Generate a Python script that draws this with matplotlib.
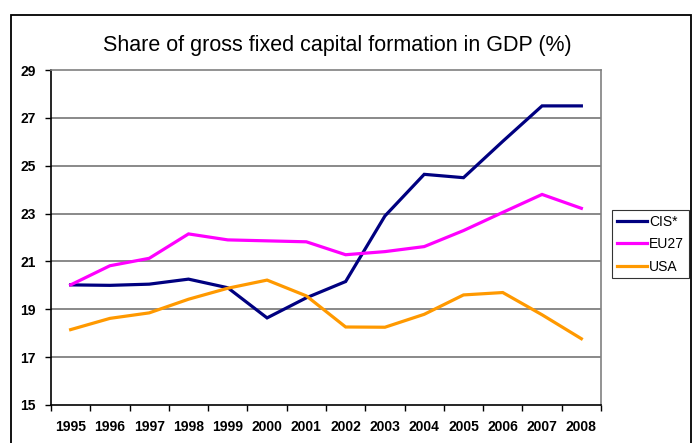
import matplotlib
matplotlib.use("Agg")
import matplotlib.pyplot as plt
import matplotlib.patches as patches
import numpy as np

years = ["1995", "1996", "1997", "1998", "1999", "2000", "2001",
         "2002", "2003", "2004", "2005", "2006", "2007", "2008"]
cis = [20.02, 20.0, 20.05, 20.26, 19.9, 18.64, 19.48, 20.16, 22.9, 24.64, 24.5, 26.02, 27.5, 27.5]
eu27 = [20.02, 20.82, 21.13, 22.15, 21.9, 21.86, 21.82, 21.28, 21.41, 21.62, 22.29, 23.05, 23.8, 23.22]
usa = [18.15, 18.62, 18.85, 19.42, 19.88, 20.22, 19.56, 18.26, 18.25, 18.79, 19.6, 19.7, 18.77, 17.77]
series_names = ["CIS*", "EU27", "USA"]
yticks = [15, 17, 19, 21, 23, 25, 27, 29]

plt.rcParams['font.family'] = ['Liberation Sans', 'DejaVu Sans']

fig = plt.figure(figsize=(6.97, 4.43), dpi=100)
ax = fig.add_axes([51/697, 1-405/443, (601-51)/697, (405-70)/443])

x = np.arange(len(years))
colors = ["#000080", "#FF00FF", "#FF9900"]
for vals, name, c in zip([cis, eu27, usa], series_names, colors):
    ax.plot(x, vals, color=c, lw=2.3, label=name, solid_joinstyle='miter')

ax.set_xlim(-0.5, len(years) - 0.5)
ax.set_ylim(15, 29)
ax.set_yticks(yticks)
ax.set_yticklabels([str(v) for v in yticks], fontsize=10, fontweight='bold')
ax.set_xticks(np.arange(-0.5, len(years), 1.0))
ax.set_xticklabels([])
ax.set_xticks(x, minor=True)
ax.set_xticklabels(years, minor=True, fontsize=10, fontweight='bold')
ax.tick_params(axis='x', which='minor', length=0, pad=11)
ax.tick_params(axis='x', which='major', length=4, width=1, color='black', direction='out')
ax.tick_params(axis='y', length=4, width=1, direction='out', pad=7)

for v in yticks[1:-1]:
    ax.axhline(v, color='#808080', lw=1.3, zorder=0)

ax.spines['left'].set_color('black')
ax.spines['bottom'].set_color('black')
ax.spines['top'].set_color('#808080')
ax.spines['right'].set_color('#808080')
for s in ax.spines.values():
    s.set_linewidth(1.2)

fig.text(337/697, 1-45/443, "Share of gross fixed capital formation in GDP (%)",
         ha='center', va='center', fontsize=15.5)

leg = fig.legend(loc='upper left', bbox_to_anchor=(612/697, 1-210/443),
                 fontsize=10, frameon=True, fancybox=False, handlelength=2.15,
                 handletextpad=0.15, borderpad=0.35, labelspacing=0.6, borderaxespad=0)
leg.get_frame().set_edgecolor('black')
leg.get_frame().set_linewidth(0.8)

frame = patches.Rectangle((11/697, -0.05), (691-11)/697, 1-15/443+0.05,
                          transform=fig.transFigure, fill=False, edgecolor='black',
                          lw=1.3, clip_on=False)
fig.patches.append(frame)

fig.savefig("out.png", dpi=100)
